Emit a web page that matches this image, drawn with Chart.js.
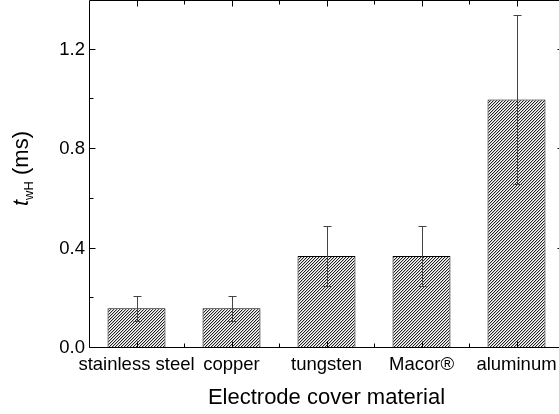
<!DOCTYPE html>
<html>
<head>
<meta charset="utf-8">
<script src="https://cdn.jsdelivr.net/npm/chart.js@4/dist/chart.umd.min.js"></script>
<style>
html, body { margin: 0; padding: 0; background: #fff; overflow: hidden; }
#wrap { width: 566px; height: 414px; }
</style>
</head>
<body>
<div id="wrap"><canvas id="chart"></canvas></div>
<script>
const materials = ['stainless steel', 'copper', 'tungsten', 'Macor®', 'aluminum'];
const tWH = [0.16, 0.16, 0.37, 0.37, 1.0];
const tWHErr = [0.05, 0.05, 0.12, 0.12, 0.34];
const yTicks = [0, 0.4, 0.8, 1.2];
const yMinorTicks = [0.2, 0.6, 1.0];

const FONT = "'Liberation Sans', Arial, sans-serif";
Chart.defaults.font.family = FONT;
Chart.defaults.color = '#000';

// diagonal "////" hatch fill, 3px period
function hatch() {
    const c = document.createElement('canvas');
    c.width = 3; c.height = 3;
    const g = c.getContext('2d');
    g.fillStyle = '#fff';
    g.fillRect(0, 0, 3, 3);
    for (let i = 0; i < 3; i++) {
        g.fillStyle = '#222';
        g.fillRect(i, 2 - i, 1, 1);
        g.fillStyle = '#c4c4c4';
        g.fillRect(i, (3 - i) % 3, 1, 1);
    }
    return g.createPattern(c, 'repeat');
}

const decor = {
    id: 'decor',
    afterDatasetsDraw(chart) {
        const ctx = chart.ctx, x = chart.scales.x, y = chart.scales.y;
        ctx.save();
        ctx.strokeStyle = '#444';
        ctx.lineWidth = 1;
        tWH.forEach((v, i) => {
            const px = Math.round(x.getPixelForValue(i)) + 0.5;
            const hi = Math.round(y.getPixelForValue(v + tWHErr[i])) + 0.5;
            const lo = Math.round(y.getPixelForValue(v - tWHErr[i])) + 0.5;
            ctx.beginPath();
            ctx.moveTo(px, hi); ctx.lineTo(px, lo);
            ctx.moveTo(px - 4, hi); ctx.lineTo(px + 4, hi);
            ctx.moveTo(px - 4, lo); ctx.lineTo(px + 4, lo);
            ctx.stroke();
        });
        ctx.restore();
    },
    afterDraw(chart) {
        const ctx = chart.ctx, a = chart.chartArea, x = chart.scales.x, y = chart.scales.y;
        const L = a.left + 0.5, R = a.right - 0.5, T = a.top + 0.5, B = a.bottom - 0.5;
        ctx.save();
        ctx.strokeStyle = '#000';
        ctx.lineWidth = 1;
        ctx.beginPath();
        ctx.rect(L, T, R - L, B - T);
        // y ticks, inward on both sides
        yTicks.forEach(v => {
            const py = Math.round(y.getPixelForValue(v)) - 0.5;
            ctx.moveTo(L, py); ctx.lineTo(L + 6, py);
            ctx.moveTo(R, py); ctx.lineTo(R - 6, py);
        });
        yMinorTicks.forEach(v => {
            const py = Math.round(y.getPixelForValue(v)) - 0.5;
            ctx.moveTo(L, py); ctx.lineTo(L + 4, py);
            ctx.moveTo(R, py); ctx.lineTo(R - 4, py);
        });
        // x ticks at centres and boundaries
        materials.forEach((m, i) => {
            const px = Math.round(x.getPixelForValue(i)) + 0.5;
            ctx.moveTo(px, B); ctx.lineTo(px, B - 6);
            ctx.moveTo(px, T); ctx.lineTo(px, T + 6);
            if (i > 0) {
                const bx = Math.round((x.getPixelForValue(i - 1) + x.getPixelForValue(i)) / 2) + 0.5;
                ctx.moveTo(bx, B); ctx.lineTo(bx, B - 4);
                ctx.moveTo(bx, T); ctx.lineTo(bx, T + 4);
            }
        });
        ctx.stroke();

        // x title
        ctx.fillStyle = '#000';
        ctx.font = '22px ' + FONT;
        ctx.textAlign = 'center';
        ctx.textBaseline = 'alphabetic';
        ctx.fillText('Electrode cover material', (a.left + a.right) / 2, 404);

        // y title: t_wH (ms)
        ctx.translate(28, 168.5);
        ctx.rotate(-Math.PI / 2);
        ctx.textAlign = 'left';
        const parts = [
            { t: 't', f: 'italic 22px ' + FONT, dy: 0 },
            { t: 'wH', f: '13px ' + FONT, dy: 5 },
            { t: ' (ms)', f: '22px ' + FONT, dy: 0 }
        ];
        let total = 0;
        parts.forEach(p => { ctx.font = p.f; p.w = ctx.measureText(p.t).width; total += p.w; });
        let cx = -total / 2;
        parts.forEach(p => { ctx.font = p.f; ctx.fillText(p.t, cx, p.dy); cx += p.w; });
        ctx.restore();
    }
};

new Chart(document.getElementById('chart'), {
    type: 'bar',
    data: {
        labels: materials,
        datasets: [{
            label: 'twH',
            data: tWH,
            backgroundColor: hatch(),
            borderColor: '#000',
            borderWidth: 1,
            barPercentage: 0.61,
            categoryPercentage: 1
        }]
    },
    options: {
        responsive: true,
        maintainAspectRatio: false,
        animation: false,
        layout: { padding: { top: 0, right: 2, left: 0, bottom: 0 } },
        plugins: { legend: { display: false }, tooltip: { enabled: false } },
        scales: {
            x: {
                grid: { display: false, drawTicks: false },
                border: { display: false },
                ticks: { font: { size: 18.5 }, padding: 6, maxRotation: 0, autoSkip: false },
                afterFit(s) { s.height = 66; s.paddingLeft = 0; s.paddingRight = 0; }
            },
            y: {
                min: 0,
                max: 1.4,
                grid: { display: false, drawTicks: false },
                border: { display: false },
                afterBuildTicks(s) { s.ticks = yTicks.map(v => ({ value: v })); },
                ticks: { font: { size: 18.5 }, padding: 4, callback: v => v.toFixed(1) },
                afterFit(s) { s.width = 89; s.paddingTop = 0; s.paddingBottom = 0; }
            }
        }
    },
    plugins: [decor]
});
</script>
</body>
</html>
